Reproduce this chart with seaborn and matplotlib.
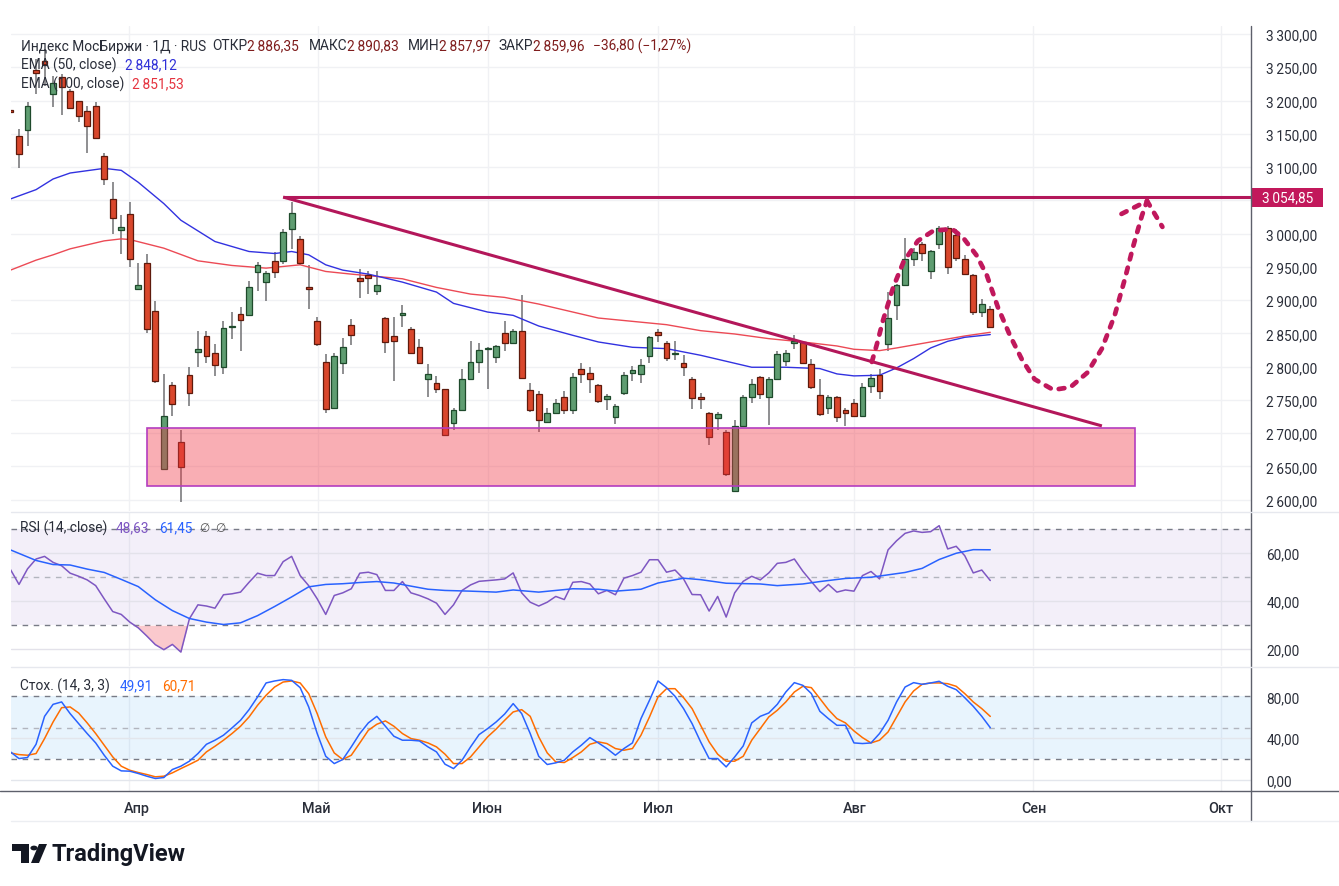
import numpy as np
import pandas as pd
import matplotlib
matplotlib.use("Agg")
import matplotlib.pyplot as plt
import seaborn as sns
from matplotlib.patches import Rectangle, Circle, Polygon
from matplotlib.lines import Line2D
from matplotlib.transforms import blended_transform_factory

sns.set_theme(style="white")
plt.rcParams["font.family"] = ["Roboto", "DejaVu Sans"]

# ---------------- data (bar index -1 .. 114) ----------------
bar_index = list(range(-1, 115))
bar_open = [3186, 3146, 3156, 3246, 3260, 3210, 3235, 3215, 3199, 3184, 3192,
            3116, 3052, 3006, 3029, 2917, 2955, 2884, 2646, 2772, 2686,
            2787, 2822, 2846, 2821, 2799, 2859, 2879, 2878, 2942, 2927,
            2959, 2959, 3007, 2992, 2920, 2869, 2807, 2737, 2805, 2862,
            2933, 2938, 2914, 2873, 2846, 2877, 2856, 2829, 2781, 2776,
            2766, 2715, 2735, 2782, 2807, 2827, 2814, 2851, 2835, 2853,
            2765, 2759, 2717, 2730, 2755, 2735, 2796, 2790, 2773, 2751,
            2724, 2760, 2791, 2789, 2816, 2852, 2835, 2819, 2805, 2782,
            2754, 2730, 2722, 2701, 2613, 2711, 2755, 2784, 2755, 2782,
            2809, 2836, 2837, 2804, 2757, 2737, 2755, 2735, 2746, 2725,
            2771, 2787, 2834, 2892, 2922, 2961, 2984, 2943, 2985, 3009,
            2998, 2962, 2938, 2882, 2886.35]
bar_high = [3187, 3157, 3197, 3262, 3277, 3237, 3240, 3217, 3200, 3192, 3198,
            3121, 3078, 3028, 3047, 2955, 2969, 2899, 2789, 2777, 2705,
            2799, 2854, 2854, 2834, 2868, 2882, 2889, 2928, 2957, 2944,
            2972, 3007, 3047, 2997, 2952, 2874, 2819, 2821, 2843, 2872,
            2946, 2944, 2944, 2874, 2874, 2892, 2859, 2842, 2804, 2786,
            2767, 2737, 2796, 2838, 2835, 2829, 2833, 2869, 2856, 2908,
            2776, 2764, 2738, 2751, 2764, 2791, 2805, 2799, 2774, 2759,
            2744, 2792, 2801, 2811, 2846, 2856, 2838, 2838, 2818, 2785,
            2761, 2731, 2732, 2704, 2720, 2757, 2781, 2786, 2785, 2824,
            2825, 2848, 2839, 2811, 2781, 2758, 2756, 2737, 2751, 2775,
            2789, 2796, 2912, 2924, 2994, 2979, 2987, 2976, 3012, 3012,
            3007, 2967, 2939, 2901, 2890.83]
bar_low = [3181, 3098, 3132, 3210, 3222, 3190, 3178, 3187, 3168, 3121, 3142,
           3073, 3000, 2969, 2950, 2915, 2851, 2776, 2646, 2726, 2597,
           2740, 2799, 2805, 2786, 2789, 2841, 2824, 2877, 2913, 2898,
           2933, 2954, 2977, 2952, 2887, 2831, 2730, 2736, 2789, 2832,
           2903, 2909, 2908, 2821, 2779, 2859, 2820, 2804, 2754, 2761,
           2696, 2704, 2734, 2782, 2791, 2767, 2806, 2824, 2834, 2781,
           2731, 2701, 2717, 2729, 2729, 2729, 2776, 2760, 2746, 2735,
           2714, 2758, 2779, 2776, 2805, 2837, 2809, 2810, 2786, 2736,
           2736, 2682, 2704, 2636, 2613, 2711, 2745, 2751, 2712, 2781,
           2801, 2826, 2804, 2766, 2725, 2729, 2717, 2711, 2724, 2724,
           2761, 2751, 2823, 2870, 2921, 2951, 2958, 2932, 2977, 2939,
           2959, 2938, 2878, 2874, 2857.97]
bar_close = [3182, 3119, 3192, 3242, 3255, 3227, 3221, 3188, 3176, 3161, 3143,
             3082, 3023, 3010, 2962, 2923, 2857, 2779, 2726, 2744, 2649,
             2761, 2826, 2816, 2802, 2858, 2861, 2870, 2920, 2952, 2941,
             2942, 3003, 3031, 2955, 2917, 2834, 2736, 2816, 2829, 2848,
             2928, 2933, 2922, 2837, 2838, 2880, 2821, 2806, 2789, 2767,
             2697, 2735, 2782, 2807, 2825, 2828, 2831, 2835, 2854, 2783,
             2735, 2720, 2730, 2746, 2735, 2785, 2789, 2781, 2748, 2756,
             2741, 2788, 2795, 2802, 2844, 2847, 2813, 2820, 2799, 2753,
             2752, 2694, 2729, 2639, 2711, 2754, 2774, 2759, 2781, 2819,
             2821, 2839, 2805, 2769, 2729, 2755, 2724, 2730, 2725, 2770,
             2783, 2763, 2873, 2922, 2962, 2973, 2971, 2974, 3009, 2949,
             2963, 2939, 2882, 2894, 2859.96]

ema50_index = [-1, 2, 4, 6, 10, 12, 14, 17, 19, 23, 27, 30, 32, 34, 36, 38, 41, 45,
               49, 51, 55, 58, 61, 65, 68, 72, 76, 80, 83, 86, 90, 94, 96, 98, 101,
               103, 105, 107, 109, 111, 114]
ema50_value = [3052, 3066, 3082, 3091, 3098, 3095, 3077, 3045, 3020, 2988, 2973, 2970,
               2973, 2968, 2953, 2945, 2939, 2927, 2912, 2895, 2882, 2877, 2861, 2847,
               2837, 2829, 2827, 2817, 2808, 2799, 2799, 2797, 2789, 2786, 2787, 2798,
               2812, 2828, 2838, 2844, 2848.12]
ema100_index = [-1, 2, 4, 6, 10, 12, 13, 17, 21, 25, 29, 33, 36, 39, 45, 49, 53, 57,
                61, 65, 68, 72, 76, 80, 84, 88, 92, 96, 98, 101, 103, 107, 111, 114]
ema100_value = [2945, 2960, 2968, 2977, 2989, 2992, 2991, 2978, 2959, 2952, 2948, 2953,
                2943, 2939, 2932, 2919, 2909, 2904, 2894, 2882, 2873, 2868, 2863, 2854,
                2849, 2842, 2837, 2831, 2826, 2824, 2828, 2837, 2846, 2851.53]

rsi_value = [53.2, 47.0, 53.5, 57.6, 58.7, 56.2, 54.8, 51.7, 50.4, 48.9, 46.5,
             41.0, 35.7, 34.5, 31.3, 28.9, 25.5, 21.9, 19.8, 22.0, 18.8,
             32.7, 38.5, 38.0, 37.1, 42.7, 43.1, 43.8, 47.9, 51.7, 50.7,
             50.7, 56.5, 58.7, 50.7, 46.5, 41.0, 34.5, 42.4, 43.5, 45.2,
             51.7, 52.1, 51.1, 44.5, 44.5, 48.2, 43.5, 42.4, 41.0, 39.2,
             34.5, 38.5, 44.5, 46.8, 48.3, 48.6, 48.9, 49.3, 51.8, 43.5,
             39.6, 38.0, 39.6, 42.0, 40.7, 47.9, 48.2, 47.2, 43.1, 44.5,
             42.7, 49.6, 50.7, 52.1, 57.3, 57.3, 52.1, 53.0, 49.3, 42.8,
             42.7, 35.9, 42.0, 33.4, 43.5, 48.3, 50.4, 48.9, 51.8, 55.8,
             56.2, 57.6, 52.5, 48.2, 44.0, 47.0, 43.8, 44.7, 44.2, 50.7,
             52.4, 49.3, 61.4, 65.2, 68.3, 69.3, 68.7, 69.0, 71.5, 61.8,
             62.9, 59.0, 51.8, 53.0, 48.63]
rsi_ma_index = [-1, 2, 4, 6, 8, 10, 12, 14, 16, 18, 20, 22, 24, 26, 28, 30, 32, 34, 36,
                38, 40, 42, 44, 46, 48, 50, 53, 56, 58, 61, 65, 68, 70, 73, 75, 78, 80,
                83, 87, 89, 92, 94, 97, 100, 104, 106, 108, 110, 112, 114]
rsi_ma_value = [61.4, 57.0, 55.3, 55.1, 53.4, 52.0, 49.1, 46.1, 40.6, 36.1, 32.8, 31.3,
                30.3, 31.0, 34.0, 37.8, 41.8, 46.0, 47.0, 47.3, 47.8, 48.2, 47.6, 46.3,
                45.0, 44.5, 44.2, 43.8, 44.7, 43.8, 45.2, 45.0, 44.2, 45.0, 47.6, 49.6,
                49.0, 47.5, 47.2, 46.5, 47.2, 48.2, 49.5, 50.0, 52.0, 53.7, 57.4, 60.0,
                61.5, 61.45]

stoch_k = [26.7, 20.3, 21.3, 34.0, 60.8, 72.3, 74.6, 63.4, 53.8, 44.3, 35.3,
           23.5, 13.0, 8.5, 8.2, 6.0, 3.4, 1.2, 2.1, 9.8, 13.0,
           17.8, 25.1, 34.0, 37.9, 42.7, 49.7, 57.0, 67.2, 79.4, 92.8,
           94.7, 96.0, 95.3, 88.3, 69.8, 44.3, 22.5, 15.5, 19.4, 31.5,
           44.3, 54.5, 60.8, 51.3, 41.7, 37.9, 37.9, 37.2, 31.5, 26.7,
           14.9, 10.7, 18.7, 31.5, 43.3, 49.0, 55.4, 63.0, 73.0, 63.4,
           44.3, 22.5, 14.6, 16.2, 18.7, 26.7, 33.1, 40.4, 35.3, 29.9,
           23.5, 29.9, 35.3, 58.6, 76.2, 94.7, 88.3, 80.0, 68.2, 53.8,
           36.3, 20.3, 20.3, 12.3, 21.9, 32.4, 54.5, 60.8, 64.0, 72.3,
           84.1, 93.1, 90.5, 82.6, 65.6, 58.6, 52.2, 52.2, 35.3, 34.7,
           35.3, 44.3, 57.0, 74.6, 88.9, 93.1, 91.5, 92.8, 94.4, 89.6,
           86.4, 78.7, 70.4, 60.8, 49.91]
stoch_d = [25.7, 24.1, 23.5, 25.1, 39.5, 55.4, 69.1, 69.8, 64.0, 54.5, 44.3,
           33.1, 21.9, 13.0, 9.1, 6.9, 5.0, 2.8, 3.4, 6.6, 10.7,
           14.6, 18.7, 26.7, 32.1, 37.9, 44.3, 51.3, 60.2, 71.4, 81.0,
           88.9, 93.7, 94.7, 92.8, 82.6, 63.4, 41.1, 25.7, 19.4, 23.5,
           35.3, 47.4, 53.2, 56.4, 51.3, 44.3, 39.5, 37.9, 35.3, 31.5,
           24.5, 15.5, 15.5, 21.9, 31.5, 41.1, 48.6, 57.0, 65.0, 67.2,
           60.8, 41.1, 25.7, 17.1, 16.5, 21.3, 26.7, 34.0, 36.3, 34.7,
           29.9, 28.3, 29.9, 42.7, 60.2, 79.4, 87.3, 87.3, 78.7, 68.2,
           52.2, 36.3, 24.5, 17.8, 17.8, 22.5, 37.9, 49.0, 60.2, 66.6,
           74.6, 84.1, 89.6, 88.3, 77.8, 67.2, 58.6, 54.5, 46.8, 40.4,
           35.3, 37.9, 45.8, 60.2, 74.6, 85.1, 91.5, 92.8, 92.8, 92.1,
           89.6, 82.6, 74.6, 68.2, 60.71]

month_labels = ["Апр", "Май", "Июн", "Июл", "Авг", "Сен", "Окт"]
month_label_pos = [13.85, 34.86, 54.9, 75.0, 98.1, 119.1, 141.1]
month_grid_pos = [12.9, 35.06, 55.1, 75.03, 98.04, 119.05, 141.1]

price_grid = list(range(2600, 3301, 50))
price_ticks = [v for v in price_grid if v != 3050]   # 3050 is hidden behind the price label
resistance_level = 3054.85
resistance_start = 31
trend_start = (31, 3054.85)
trend_end = (127.1, 2710.8)
zone_x = (15.0, 131.0)
zone_y = (2621.0, 2707.3)
path_index = [100.1, 100.7, 101.4, 102.6, 103.8, 105.5, 107.3, 109.5, 110.8, 112.4,
              113.6, 114.9, 116.3, 117.7, 119.2, 121.4, 123.4, 125.4, 127.1, 128.6,
              129.8, 130.8, 131.8, 132.4]
path_price = [2807, 2834, 2869, 2919, 2957, 2989, 3004, 3007, 2994, 2967,
              2937, 2889, 2847, 2811, 2781, 2765, 2769, 2791, 2827, 2877,
              2932, 2982, 3027, 3049]
arrow_left = (129.4, 3029.5)
arrow_right = (134.2, 3010.0)

# ---------------- figure layout ----------------
W, H = 1339, 887
fig = plt.figure(figsize=(W / 100, H / 100), dpi=100)
fig.patch.set_facecolor("white")
LEFT, RIGHT = 11, 1251


def add_ax(top, bottom):
    return fig.add_axes([LEFT / W, 1 - bottom / H, (RIGHT - LEFT) / W, (bottom - top) / H])


ax_p = add_ax(27, 512)
ax_r = add_ax(513, 667)
ax_s = add_ax(668, 792)
XL = (-0.94, 144.6)
TXT = "#2a2e39"
GRID = "#f0f1f4"

for ax in (ax_p, ax_r, ax_s):
    ax.set_facecolor("white")
    ax.set_xlim(*XL)
    for s in ax.spines.values():
        s.set_visible(False)
    ax.yaxis.tick_right()
    ax.tick_params(axis="y", length=0, pad=11, labelsize=9.8, labelcolor=TXT)
    ax.tick_params(axis="x", length=0)
    ax.grid(False)
    for gx in month_grid_pos:
        ax.axvline(gx, color=GRID, lw=1, zorder=0)

ax_p.set_xticks([])
ax_r.set_xticks([])


def fmt_price(v):
    iv = int(round(v * 100))
    whole, frac = divmod(iv, 100)
    return f"{whole // 1000}\u2009{whole % 1000:03d},{frac:02d}"


# ---------------- price panel ----------------
ax_p.set_ylim(2582.9, 3312.0)
ax_p.set_yticks(price_ticks)
ax_p.set_yticklabels([fmt_price(v) for v in price_ticks])
for v in price_grid:
    ax_p.axhline(v, color=GRID, lw=1, zorder=0)

df = pd.DataFrame({"i": bar_index, "o": bar_open, "h": bar_high, "l": bar_low, "c": bar_close})
up = df["c"] >= df["o"]
body_lo = np.minimum(df["o"], df["c"])
body_h = np.maximum(np.abs(df["c"] - df["o"]), 1.6)
ax_p.vlines(df["i"], df["l"], df["h"], color="#7b7b7e", lw=1.2, zorder=2)
ax_p.bar(df["i"], body_h, bottom=body_lo, width=0.68,
         color=np.where(up, "#5f9d71", "#d9472c"),
         edgecolor=np.where(up, "#1e4a2b", "#5e1a0c"), linewidth=0.9, zorder=3)

ema50_df = pd.DataFrame({"i": ema50_index, "v": ema50_value})
ema100_df = pd.DataFrame({"i": ema100_index, "v": ema100_value})
sns.lineplot(data=ema100_df, x="i", y="v", ax=ax_p, color="#ec4a55", lw=1.0,
             estimator=None, sort=False, legend=False, zorder=2.5)
sns.lineplot(data=ema50_df, x="i", y="v", ax=ax_p, color="#3232e0", lw=1.0,
             estimator=None, sort=False, legend=False, zorder=2.5)

# support zone
ax_p.add_patch(Rectangle((zone_x[0], zone_y[0]), zone_x[1] - zone_x[0], zone_y[1] - zone_y[0],
                         facecolor="#f23645", alpha=0.40, edgecolor="none", zorder=4))
ax_p.add_patch(Rectangle((zone_x[0], zone_y[0]), zone_x[1] - zone_x[0], zone_y[1] - zone_y[0],
                         fill=False, edgecolor="#b43dbf", lw=1.2, zorder=4.1))

LINE_C = "#b3175a"
ax_p.plot([resistance_start, XL[1]], [resistance_level, resistance_level], color=LINE_C,
          lw=2.2, zorder=5, solid_capstyle="butt")
ax_p.plot([trend_start[0], trend_end[0]], [trend_start[1], trend_end[1]], color=LINE_C,
          lw=2.2, zorder=5, solid_capstyle="butt")

DASH_C = "#c0185c"
ax_p.plot(path_index, path_price, color=DASH_C, lw=3.4, ls=(0, (1.2, 1.8)),
          dash_capstyle="round", zorder=6)
tip = (path_index[-1], path_price[-1])
ax_p.plot([arrow_left[0], tip[0], arrow_right[0]], [arrow_left[1], tip[1], arrow_right[1]],
          color=DASH_C, lw=3.4, ls=(0, (1.2, 1.8)), dash_capstyle="round", zorder=6)

# price label on the scale
blend = blended_transform_factory(fig.transFigure, ax_p.transData)
ppu = (3312.0 - 2582.9) / (512 - 27)
ax_p.add_patch(Rectangle((1252 / W, resistance_level - 9.5 * ppu), 71 / W, 19 * ppu,
                         transform=blend, facecolor="#c2185b", edgecolor="none",
                         clip_on=False, zorder=10))
ax_p.text(1287.5 / W, resistance_level, fmt_price(resistance_level), transform=blend,
          ha="center", va="center", color="white", fontsize=9.8, clip_on=False, zorder=11)

# ---------------- RSI panel ----------------
ax_r.set_ylim(13.0, 77.2)
ax_r.set_yticks([20, 40, 60])
ax_r.set_yticklabels(["20,00", "40,00", "60,00"])
ax_r.axhspan(30, 70, color="#7e57c2", alpha=0.09, lw=0, zorder=0.5)
for v in (20, 40, 60):
    ax_r.axhline(v, color="#e3e2ea", lw=1, zorder=0.6)
ax_r.axhline(70, color="#787b86", lw=1, ls=(0, (4, 4)), zorder=1)
ax_r.axhline(30, color="#787b86", lw=1, ls=(0, (4, 4)), zorder=1)
ax_r.axhline(50, color="#b2b5be", lw=1, ls=(0, (4, 4)), zorder=1)
rsi_arr = np.array(rsi_value)
ax_r.fill_between(bar_index, rsi_arr, 30, where=rsi_arr < 30, interpolate=True,
                  color="#f7a5ad", alpha=0.6, lw=0, zorder=1.2)
rsi_df = pd.DataFrame({"i": bar_index, "rsi": rsi_value})
rsi_ma_df = pd.DataFrame({"i": rsi_ma_index, "ma": rsi_ma_value})
sns.lineplot(data=rsi_df, x="i", y="rsi", ax=ax_r, color="#7e57c2", lw=1.1,
             estimator=None, sort=False, legend=False, zorder=3)
sns.lineplot(data=rsi_ma_df, x="i", y="ma", ax=ax_r, color="#2962ff", lw=1.1,
             estimator=None, sort=False, legend=False, zorder=3)

# ---------------- Stochastic panel ----------------
ax_s.set_ylim(-10.8, 108.1)
ax_s.set_yticks([0, 40, 80])
ax_s.set_yticklabels(["0,00", "40,00", "80,00"])
ax_s.axhspan(20, 80, color="#2196f3", alpha=0.10, lw=0, zorder=0.5)
for v in (0, 40):
    ax_s.axhline(v, color="#e3e6ec", lw=1, zorder=0.6)
ax_s.axhline(80, color="#787b86", lw=1, ls=(0, (4, 4)), zorder=1)
ax_s.axhline(20, color="#787b86", lw=1, ls=(0, (4, 4)), zorder=1)
ax_s.axhline(50, color="#b2b5be", lw=1, ls=(0, (4, 4)), zorder=1)
st_df = pd.DataFrame({"i": bar_index, "k": stoch_k, "d": stoch_d})
sns.lineplot(data=st_df, x="i", y="d", ax=ax_s, color="#ff6d00", lw=1.1,
             estimator=None, sort=False, legend=False, zorder=3)
sns.lineplot(data=st_df, x="i", y="k", ax=ax_s, color="#2962ff", lw=1.1,
             estimator=None, sort=False, legend=False, zorder=3)
ax_s.set_xticks(month_label_pos)
ax_s.set_xticklabels(month_labels, fontsize=10.4, color=TXT, fontweight="medium")
ax_s.tick_params(axis="x", pad=7)
for ax in (ax_p, ax_r, ax_s):
    ax.set_xlim(*XL)
    ax.set_xlabel("")
    ax.set_ylabel("")

# ---------------- frame lines ----------------
AX_C = "#5d606b"
fig.add_artist(Line2D([RIGHT / W, RIGHT / W], [1 - 822 / H, 1 - 27 / H], color=AX_C, lw=1))
fig.add_artist(Line2D([0, 1], [1 - 792 / H, 1 - 792 / H], color=AX_C, lw=1))
for yy in (512.5, 667.5):
    fig.add_artist(Line2D([LEFT / W, 1], [1 - yy / H, 1 - yy / H], color="#e6e8ee", lw=1))
fig.add_artist(Line2D([LEFT / W, 1], [1 - 822 / H, 1 - 822 / H], color="#eceef2", lw=1))


# ---------------- legends ----------------
def ftext(x, y, s, color=TXT, size=9.9, **kw):
    fig.text(x / W, 1 - y / H, s, color=color, fontsize=size, ha="left", va="center", **kw)


VAL_C = "#7f1d1d"
ftext(20.7, 46.5, "Индекс МосБиржи · 1Д · RUS")
ftext(212.6, 46.5, "ОТКР")
ftext(247, 46.5, fmt_price(bar_open[-1]), VAL_C)
ftext(308.5, 46.5, "МАКС")
ftext(346.6, 46.5, fmt_price(bar_high[-1]), VAL_C)
ftext(407.7, 46.5, "МИН")
ftext(439.4, 46.5, fmt_price(bar_low[-1]), VAL_C)
ftext(498.2, 46.5, "ЗАКР")
ftext(532.6, 46.5, fmt_price(bar_close[-1]), VAL_C)
ftext(593.2, 46.5, "\u221236,80 (\u22121,27%)", VAL_C)
ftext(20.7, 65.5, "EMA (50, close)")
ftext(124.9, 65.5, fmt_price(ema50_value[-1]), "#2f2fd8")
ftext(20.7, 84, "EMA (100, close)")
ftext(131.8, 84, fmt_price(ema100_value[-1]), "#e5333f")

ftext(20, 528.5, "RSI (14, close)")
ftext(116, 528.5, "48,63", "#7e57c2")
ftext(159.3, 528.5, "61,45", "#2962ff")
ftext(200, 528.5, "\u2205  \u2205", "#555555", size=8.5)

ftext(20, 686.5, "Стох. (14, 3, 3)")
ftext(120, 686.5, "49,91", "#2962ff")
ftext(161.7, 686.5, "60,71", "#ff6d00")

# ---------------- TradingView logo ----------------
LOGO_C = "#131722"


def fpts(pts):
    return [(x / W, 1 - y / H) for x, y in pts]


fig.add_artist(Polygon(fpts([(12, 845), (29, 845), (29, 864), (21, 864), (21, 852), (12, 852)]),
                       closed=True, transform=fig.transFigure, fc=LOGO_C, ec="none"))
fig.add_artist(Circle((34.0 / W, 1 - 849 / H), 3.6 / W, transform=fig.transFigure,
                      fc=LOGO_C, ec="none"))
fig.add_artist(Polygon(fpts([(31, 864), (39, 845), (47, 845), (39, 864)]),
                       closed=True, transform=fig.transFigure, fc=LOGO_C, ec="none"))
fig.text(52 / W, 1 - 855 / H, "TradingView", fontsize=17, fontweight="bold",
         color=LOGO_C, ha="left", va="center")

fig.savefig("out.png", dpi=100, facecolor="white")
